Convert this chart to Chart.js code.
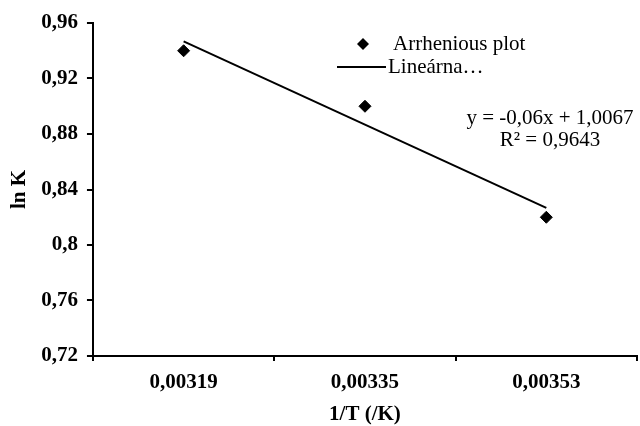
<!DOCTYPE html>
<html>
<head>
<meta charset="utf-8">
<script src="https://cdn.jsdelivr.net/npm/chart.js@4.4.1/dist/chart.umd.min.js"></script>
<style>
html, body { margin: 0; background: #fff; overflow: hidden; }
#wrap { width: 644px; height: 426px; position: relative; }
</style>
</head>
<body>
<div id="wrap"><canvas id="chart"></canvas></div>
<script>
// categories on x axis (1/T)
var labels = ["0,00319", "0,00335", "0,00353"];
// measured ln K values
var lnK = [0.94, 0.90, 0.82];
// linear trendline values as drawn
var trend = [0.9467, 0.8867, 0.8267];
var eqText = ["y = -0,06x + 1,0067", "R\u00b2 = 0,9643"];

var serif = "'Liberation Serif', 'Times New Roman', serif";

// draws the legend and equation text like the excel chart
var extras = {
	id: 'extras',
	afterDraw: function(chart) {
		var ctx = chart.ctx;
		ctx.save();
		ctx.fillStyle = '#000';
		ctx.strokeStyle = '#000';
		// diamond marker
		ctx.beginPath();
		ctx.moveTo(363, 38);
		ctx.lineTo(369, 44);
		ctx.lineTo(363, 50);
		ctx.lineTo(357, 44);
		ctx.closePath();
		ctx.fill();
		ctx.font = '21px ' + serif;
		ctx.textBaseline = 'middle';
		ctx.textAlign = 'left';
		ctx.fillText(chart.data.datasets[0].label, 393, 44);
		// line sample
		ctx.lineWidth = 2;
		ctx.beginPath();
		ctx.moveTo(337, 67);
		ctx.lineTo(386, 67);
		ctx.stroke();
		ctx.fillText(chart.data.datasets[1].label, 388, 67);
		// equation
		ctx.textAlign = 'center';
		ctx.fillText(eqText[0], 550, 118);
		ctx.fillText(eqText[1], 550, 140);
		ctx.restore();
	}
};

var config = {
	type: 'line',
	data: {
		labels: labels,
		datasets: [{
			label: "Arrhenious plot",
			data: lnK,
			showLine: false,
			pointStyle: 'rectRot',
			pointRadius: 6,
			pointBackgroundColor: '#000',
			pointBorderColor: '#000',
			order: 1
		},
		{
			label: "Lineárna\u2026",
			data: trend,
			borderColor: '#000',
			borderWidth: 2,
			pointRadius: 0,
			tension: 0,
			order: 2
		}]
	},
	options: {
		responsive: true,
		maintainAspectRatio: false,
		animation: false,
		layout: { padding: { top: 23, right: 2, left: 1, bottom: 1 } },
		plugins: {
			legend: { display: false },
			tooltip: { enabled: false }
		},
		scales: {
			x: {
				offset: true,
				afterFit: function(scale) { scale.paddingRight = 0; },
				grid: { offset: true, drawOnChartArea: false, tickLength: 5, color: '#000', lineWidth: 2 },
				border: { color: '#000', width: 2 },
				ticks: { color: '#000', font: { family: serif, size: 21, weight: 'bold', lineHeight: 1 }, padding: 11 },
				title: { display: true, text: '1/T (/K)', color: '#000', font: { family: serif, size: 21, weight: 'bold', lineHeight: 1 }, padding: { top: 0, bottom: 0 } }
			},
			y: {
				min: 0.72,
				max: 0.96,
				grid: { drawOnChartArea: false, tickLength: 6, color: '#000', lineWidth: 2 },
				border: { color: '#000', width: 2 },
				ticks: {
					stepSize: 0.04,
					color: '#000',
					padding: 9,
					font: { family: serif, size: 21, weight: 'bold' },
					callback: function(v) {
						return String(parseFloat(v.toFixed(2))).replace('.', ',');
					}
				},
				title: { display: true, text: 'ln K', color: '#000', font: { family: serif, size: 21, weight: 'bold' }, padding: { top: 6, bottom: 0 } }
			}
		}
	},
	plugins: [extras]
};

var ctx = document.getElementById('chart').getContext('2d');
window.myLine = new Chart(ctx, config);
</script>
</body>
</html>
